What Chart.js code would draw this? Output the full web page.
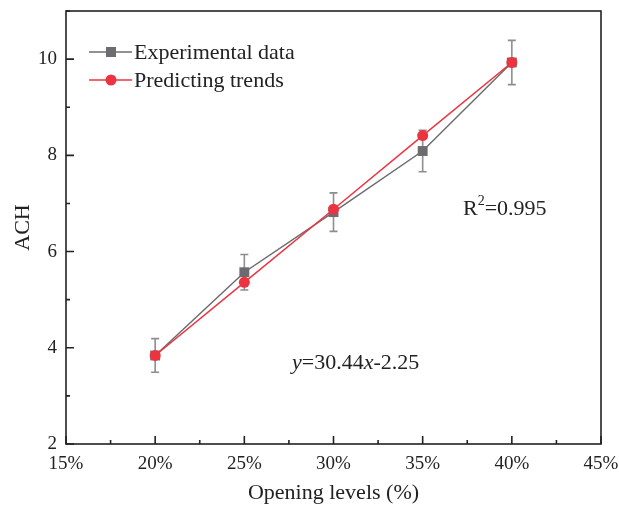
<!DOCTYPE html>
<html>
<head>
<meta charset="utf-8">
<script src="https://cdn.jsdelivr.net/npm/chart.js@4/dist/chart.umd.min.js"></script>
<style>
  html, body { margin: 0; padding: 0; background: #fff; }
  #wrap { width: 619px; height: 510px; }
</style>
</head>
<body>
<div id="wrap"><canvas id="achChart" width="619" height="510"></canvas></div>
<script>
// data
const openings = [20, 25, 30, 35, 40];
const experimental = [3.84, 5.57, 6.82, 8.09, 9.93];
const expError = [0.35, 0.37, 0.40, 0.43, 0.46];
const predicted = [3.84, 5.36, 6.88, 8.41, 9.93];
const xTicks = [15, 20, 25, 30, 35, 40, 45];
const yTicks = [2, 4, 6, 8, 10];

const SERIF = '"Liberation Serif", "Times New Roman", serif';
const INK = '#222';
const GRAY = '#6c6c70';
const RED = '#ec3440';

const toPoints = vals => openings.map((o, i) => ({ x: o, y: vals[i] }));

// frame, inward ticks, error bars, legend, notes
const decor = {
  id: 'decor',
  beforeDatasetsDraw(chart) {
    const { ctx, scales: { x, y } } = chart;
    ctx.save();
    ctx.strokeStyle = '#8e8e8e';
    ctx.lineWidth = 1.6;
    openings.forEach((o, i) => {
      const px = x.getPixelForValue(o);
      const top = y.getPixelForValue(experimental[i] + expError[i]);
      const bot = y.getPixelForValue(experimental[i] - expError[i]);
      ctx.beginPath();
      ctx.moveTo(px, top); ctx.lineTo(px, bot);
      ctx.moveTo(px - 4, top); ctx.lineTo(px + 4, top);
      ctx.moveTo(px - 4, bot); ctx.lineTo(px + 4, bot);
      ctx.stroke();
    });
    ctx.restore();
  },
  afterDraw(chart) {
    const { ctx, chartArea: a, scales: { x, y } } = chart;
    ctx.save();
    // box
    ctx.strokeStyle = INK;
    ctx.lineWidth = 1.6;
    ctx.strokeRect(a.left, a.top, a.right - a.left, a.bottom - a.top);
    // ticks pointing in
    ctx.beginPath();
    xTicks.forEach((v, i) => {
      const px = x.getPixelForValue(v);
      ctx.moveTo(px, a.bottom); ctx.lineTo(px, a.bottom - 8);
      if (i < xTicks.length - 1) {
        const mx = x.getPixelForValue(v + 2.5);
        ctx.moveTo(mx, a.bottom); ctx.lineTo(mx, a.bottom - 4);
      }
    });
    yTicks.forEach(v => {
      const py = y.getPixelForValue(v);
      ctx.moveTo(a.left, py); ctx.lineTo(a.left + 8, py);
      const my = y.getPixelForValue(v + 1);
      ctx.moveTo(a.left, my); ctx.lineTo(a.left + 4, my);
    });
    ctx.stroke();

    // legend
    ctx.font = `22px ${SERIF}`;
    ctx.textBaseline = 'middle';
    chart.data.datasets.forEach((ds, i) => {
      const ly = 52 + i * 28;
      ctx.strokeStyle = ds.borderColor;
      ctx.lineWidth = 1.5;
      ctx.beginPath();
      ctx.moveTo(89, ly); ctx.lineTo(132, ly);
      ctx.stroke();
      ctx.fillStyle = ds.pointBackgroundColor;
      if (ds.pointStyle === 'rect') {
        ctx.fillRect(106, ly - 5, 10, 10);
      } else {
        ctx.beginPath();
        ctx.arc(111, ly, 5.5, 0, Math.PI * 2);
        ctx.fill();
      }
      ctx.fillStyle = INK;
      ctx.fillText(ds.label, 134, ly + 1);
    });

    // R^2 note
    ctx.textBaseline = 'alphabetic';
    ctx.font = `22px ${SERIF}`;
    let tx = 463;
    ctx.fillText('R', tx, 215);
    tx += ctx.measureText('R').width;
    ctx.font = `14px ${SERIF}`;
    ctx.fillText('2', tx, 205);
    tx += ctx.measureText('2').width;
    ctx.font = `22px ${SERIF}`;
    ctx.fillText('=0.995', tx, 215);

    // fit equation
    const parts = [['y', true], ['=30.44', false], ['x', true], ['-2.25', false]];
    tx = 292;
    parts.forEach(([t, it]) => {
      ctx.font = `${it ? 'italic ' : ''}22px ${SERIF}`;
      ctx.fillText(t, tx, 369);
      tx += ctx.measureText(t).width;
    });
    ctx.restore();
  }
};

new Chart(document.getElementById('achChart'), {
  type: 'line',
  data: {
    datasets: [
      {
        label: 'Experimental data',
        data: toPoints(experimental),
        borderColor: GRAY,
        borderWidth: 1.5,
        pointStyle: 'rect',
        pointRadius: 7,
        pointBackgroundColor: GRAY,
        pointBorderWidth: 0,
        order: 2
      },
      {
        label: 'Predicting trends',
        data: toPoints(predicted),
        borderColor: RED,
        borderWidth: 1.5,
        pointStyle: 'circle',
        pointRadius: 5.5,
        pointBackgroundColor: RED,
        pointBorderWidth: 0,
        order: 1
      }
    ]
  },
  options: {
    responsive: false,
    animation: false,
    devicePixelRatio: 1,
    layout: { padding: { top: 11, right: 18, left: 0, bottom: 0 } },
    plugins: { legend: { display: false }, tooltip: { enabled: false } },
    scales: {
      x: {
        type: 'linear',
        min: 15, max: 45,
        afterFit: s => { s.height = 66; s.paddingLeft = 0; s.paddingRight = 0; },
        afterBuildTicks: s => { s.ticks = xTicks.map(v => ({ value: v })); },
        grid: { display: false, drawTicks: false },
        border: { display: false },
        ticks: {
          padding: 9,
          color: INK,
          font: { family: SERIF, size: 19 },
          callback: v => v + '%'
        },
        title: {
          display: true,
          text: 'Opening levels (%)',
          color: INK,
          font: { family: SERIF, size: 22 },
          padding: { top: 0, bottom: 4 }
        }
      },
      y: {
        min: 2, max: 11,
        afterFit: s => { s.width = 66; s.paddingTop = 0; s.paddingBottom = 0; },
        afterBuildTicks: s => { s.ticks = yTicks.map(v => ({ value: v })); },
        grid: { display: false, drawTicks: false },
        border: { display: false },
        ticks: {
          padding: 9,
          color: INK,
          font: { family: SERIF, size: 19 }
        },
        title: {
          display: true,
          text: 'ACH',
          color: INK,
          font: { family: SERIF, size: 22 },
          padding: { top: 10, bottom: 0 }
        }
      }
    }
  },
  plugins: [decor]
});
</script>
</body>
</html>
